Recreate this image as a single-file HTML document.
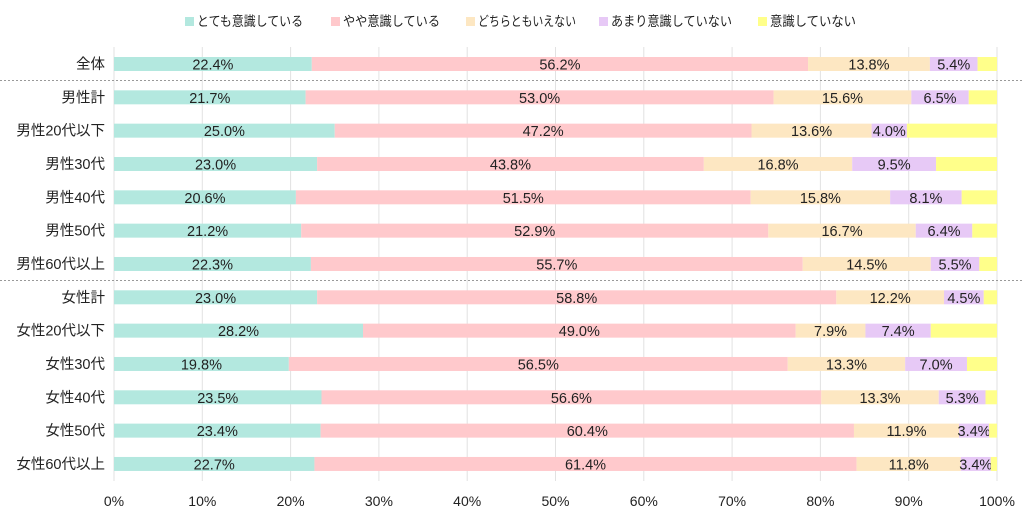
<!DOCTYPE html>
<html><head><meta charset="utf-8"><style>
html,body{margin:0;padding:0;background:#fff;width:1024px;height:518px;overflow:hidden}
svg text{font-family:"Liberation Sans","Noto Sans CJK JP",sans-serif;fill:#222}
</style></head><body>
<svg id="c" width="1024" height="518" xmlns="http://www.w3.org/2000/svg">
<g font-size="13.5">
<rect x="185" y="17" width="9" height="9" fill="#b3e8df"/><text x="197" y="26" textLength="106" lengthAdjust="spacingAndGlyphs">とても意識している</text>
<rect x="331" y="17" width="9" height="9" fill="#ffc9cc"/><text x="343" y="26" textLength="97" lengthAdjust="spacingAndGlyphs">やや意識している</text>
<rect x="466" y="17" width="9" height="9" fill="#fde7c2"/><text x="478" y="26" textLength="98" lengthAdjust="spacingAndGlyphs">どちらともいえない</text>
<rect x="599" y="17" width="9" height="9" fill="#e7c9f6"/><text x="611" y="26" textLength="121" lengthAdjust="spacingAndGlyphs">あまり意識していない</text>
<rect x="758" y="17" width="9" height="9" fill="#ffff8a"/><text x="770" y="26" textLength="86" lengthAdjust="spacingAndGlyphs">意識していない</text>
</g>
</svg>
<script>
var d=[["全体",22.4,56.2,13.8,5.4],["男性計",21.7,53.0,15.6,6.5],["男性20代以下",25.0,47.2,13.6,4.0],["男性30代",23.0,43.8,16.8,9.5],["男性40代",20.6,51.5,15.8,8.1],["男性50代",21.2,52.9,16.7,6.4],["男性60代以上",22.3,55.7,14.5,5.5],["女性計",23.0,58.8,12.2,4.5],["女性20代以下",28.2,49.0,7.9,7.4],["女性30代",19.8,56.5,13.3,7.0],["女性40代",23.5,56.6,13.3,5.3],["女性50代",23.4,60.4,11.9,3.4],["女性60代以上",22.7,61.4,11.8,3.4]];
var cols=["#b3e8df","#ffc9cc","#fde7c2","#e7c9f6","#ffff8a"];
var x0=114,W=883,s="";
for(var k=0;k<=10;k++){var gx=x0+W*k/10;s+='<line x1="'+gx+'" y1="47" x2="'+gx+'" y2="481" stroke="#e2e2e2" stroke-width="1"/>';
s+='<text x="'+gx+'" y="506" font-size="14" text-anchor="middle">'+(k*10)+'%</text>';}
s+='<line x1="0" y1="80.5" x2="1024" y2="80.5" stroke="#999" stroke-dasharray="2,2"/>';
s+='<line x1="0" y1="280.5" x2="1024" y2="280.5" stroke="#999" stroke-dasharray="2,2"/>';
d.forEach(function(r,i){var cy=64+i*33.33,x=x0;
var v=[r[1],r[2],r[3],r[4]];var sum=v[0]+v[1]+v[2]+v[3];v.push(100-sum);
s+='<text x="105" y="'+(cy+5)+'" font-size="14.5" text-anchor="end">'+r[0]+'</text>';
v.forEach(function(p,j){var w=W*p/100;s+='<rect x="'+x+'" y="'+(cy-7)+'" width="'+w+'" height="14" fill="'+cols[j]+'"/>';
if(j<4)s+='<text x="'+(x+w/2)+'" y="'+(cy+5.5)+'" font-size="14.5" text-anchor="middle">'+p.toFixed(1)+'%</text>';x+=w;});});
document.getElementById("c").insertAdjacentHTML("beforeend",s);
</script>
</body></html>
